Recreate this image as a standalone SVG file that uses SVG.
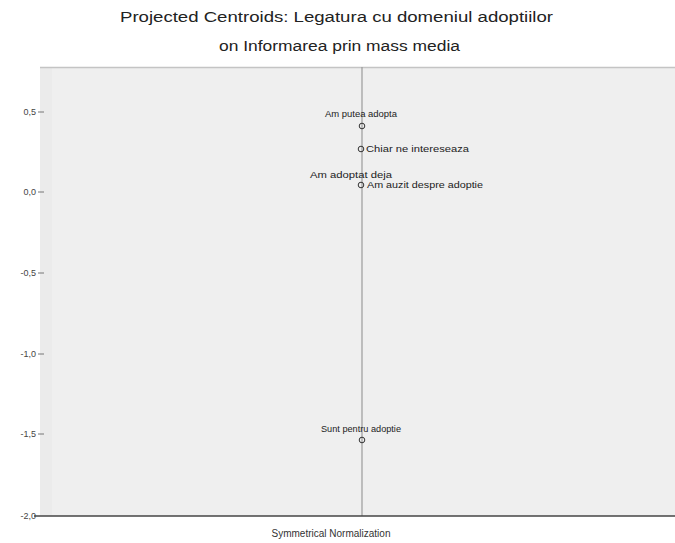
<svg xmlns="http://www.w3.org/2000/svg" width="675" height="543" viewBox="0 0 675 543">
<style>
.title{font-family:"Liberation Sans",Arial,sans-serif;font-size:14px;fill:#222;}
.tick{font-family:"Liberation Sans",Arial,sans-serif;font-size:9px;fill:#444;text-anchor:end;}
.lbl{font-family:"Liberation Sans",Arial,sans-serif;font-size:9px;fill:#222;}
.axt{font-family:"Liberation Sans",Arial,sans-serif;font-size:10px;fill:#333;text-anchor:middle;}
.pt{fill:none;stroke:#333;stroke-width:1;}
</style>
<rect width="675" height="543" fill="#ffffff"/>
<text class="title" x="120" y="22" textLength="433" lengthAdjust="spacingAndGlyphs">Projected Centroids: Legatura cu domeniul adoptiilor</text>
<text class="title" x="219" y="51" textLength="241" lengthAdjust="spacingAndGlyphs">on Informarea prin mass media</text>
<g id="plot">
<rect x="40" y="67" width="635" height="449" fill="#efefef"/>
<rect x="40" y="68" width="12" height="448" fill="#ebebeb"/>
<line x1="40" y1="67.5" x2="675" y2="67.5" stroke="#c4c4c4" stroke-width="1.5"/>
<line x1="362" y1="67" x2="362" y2="516" stroke="#9a9a9a" stroke-width="1.2"/>
<line x1="34" y1="516" x2="675" y2="516" stroke="#444" stroke-width="1.5"/>
</g>
<g id="yaxis">
<line x1="38" y1="112" x2="44" y2="112" stroke="#777"/>
<line x1="38" y1="192" x2="44" y2="192" stroke="#777"/>
<line x1="38" y1="273" x2="44" y2="273" stroke="#777"/>
<line x1="38" y1="354" x2="44" y2="354" stroke="#777"/>
<line x1="38" y1="434" x2="44" y2="434" stroke="#777"/>
<text class="tick" x="36" y="115">0,5</text>
<text class="tick" x="36" y="195">0,0</text>
<text class="tick" x="36" y="276">-0,5</text>
<text class="tick" x="36" y="357">-1,0</text>
<text class="tick" x="36" y="437">-1,5</text>
<text class="tick" x="36" y="519">-2,0</text>
</g>
<g id="p1">
<circle class="pt" cx="362" cy="126" r="2.8"/>
<text class="lbl" x="325" y="117" textLength="72" lengthAdjust="spacingAndGlyphs">Am putea adopta</text>
</g>
<g id="p2">
<circle class="pt" cx="361" cy="149" r="2.8"/>
<text class="lbl" x="366" y="152" textLength="103" lengthAdjust="spacingAndGlyphs">Chiar ne intereseaza</text>
</g>
<g id="p3">
<circle class="pt" cx="361" cy="185" r="2.8"/>
<text class="lbl" x="310" y="178" textLength="82" lengthAdjust="spacingAndGlyphs">Am adoptat deja</text>
<text class="lbl" x="367" y="188" textLength="116" lengthAdjust="spacingAndGlyphs">Am auzit despre adoptie</text>
</g>
<g id="p4">
<circle class="pt" cx="362" cy="440" r="2.8"/>
<text class="lbl" x="321" y="432" textLength="80" lengthAdjust="spacingAndGlyphs">Sunt pentru adoptie</text>
</g>
<text class="axt" x="331" y="537">Symmetrical Normalization</text>
</svg>
